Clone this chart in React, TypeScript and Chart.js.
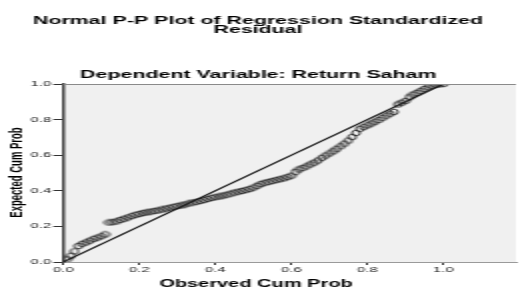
import React, { useEffect, useRef } from 'react';
import { Chart, registerables } from 'chart.js';

Chart.register(...registerables);

// ---- data ----
const observedCumProb = [
  0.01, 0.02, 0.03, 0.04, 0.05, 0.06, 0.07, 0.08, 0.09, 0.10,
  0.11, 0.12, 0.13, 0.14, 0.15, 0.16, 0.17, 0.18, 0.19, 0.20,
  0.21, 0.22, 0.23, 0.24, 0.25, 0.26, 0.27, 0.28, 0.29, 0.30,
  0.31, 0.32, 0.33, 0.34, 0.35, 0.36, 0.37, 0.38, 0.39, 0.40,
  0.41, 0.42, 0.43, 0.44, 0.45, 0.46, 0.47, 0.48, 0.49, 0.50,
  0.51, 0.52, 0.53, 0.54, 0.55, 0.56, 0.57, 0.58, 0.59, 0.60,
  0.61, 0.62, 0.63, 0.64, 0.65, 0.66, 0.67, 0.68, 0.69, 0.70,
  0.71, 0.72, 0.73, 0.74, 0.75, 0.76, 0.77, 0.78, 0.79, 0.80,
  0.81, 0.82, 0.83, 0.84, 0.85, 0.86, 0.87, 0.88, 0.89, 0.90,
  0.91, 0.92, 0.93, 0.94, 0.95, 0.96, 0.97, 0.98, 0.99, 1.00,
];
const expectedCumProb = [
  0.015, 0.035, 0.06, 0.09, 0.102, 0.11, 0.12, 0.13, 0.137, 0.145,
  0.155, 0.222, 0.224, 0.228, 0.236, 0.243, 0.25, 0.258, 0.265, 0.27,
  0.275, 0.279, 0.283, 0.287, 0.29, 0.295, 0.3, 0.305, 0.31, 0.314,
  0.318, 0.323, 0.329, 0.334, 0.338, 0.343, 0.348, 0.354, 0.36, 0.364,
  0.368, 0.373, 0.378, 0.384, 0.39, 0.395, 0.399, 0.404, 0.41, 0.418,
  0.428, 0.438, 0.445, 0.45, 0.455, 0.46, 0.465, 0.47, 0.477, 0.485,
  0.505, 0.52, 0.528, 0.537, 0.548, 0.558, 0.57, 0.585, 0.598, 0.61,
  0.622, 0.636, 0.65, 0.665, 0.682, 0.702, 0.725, 0.748, 0.758, 0.768,
  0.778, 0.788, 0.798, 0.81, 0.822, 0.833, 0.843, 0.885, 0.895, 0.905,
  0.925, 0.94, 0.95, 0.96, 0.972, 0.982, 0.99, 0.995, 0.998, 1.0,
];
const referenceLine = [0, 1];
const titleLines = ['Normal P-P Plot of Regression Standardized', 'Residual'];
const subtitleText = 'Dependent Variable: Return Saham';
const xAxisTitle = 'Observed Cum Prob';
const yAxisTitle = 'Expected Cum Prob';

// ---- layout (the reference image is stretched horizontally) ----
const SX = 2;
const W = 263;
const H = 288;
const FONT = '"Liberation Sans", Arial, sans-serif';

export default function App() {
  const ref = useRef<HTMLCanvasElement>(null);

  useEffect(() => {
    const canvas = ref.current!;
    const marker = document.createElement('canvas');
    marker.width = 6;
    marker.height = 8;
    const m = marker.getContext('2d')!;
    m.strokeStyle = '#1e1e1e';
    m.lineWidth = 0.85;
    m.beginPath();
    m.ellipse(3, 4, 2.0, 2.9, 0, 0, Math.PI * 2);
    m.stroke();

    const decor = {
      id: 'decor',
      beforeDraw(chart: any) {
        const { ctx, chartArea: a } = chart;
        ctx.save();
        ctx.fillStyle = '#f0f0f0';
        ctx.fillRect(a.left, a.top, a.right - a.left, a.bottom - a.top);
        ctx.restore();
      },
      afterDraw(chart: any) {
        const { ctx, chartArea: a } = chart;
        ctx.save();
        ctx.strokeStyle = '#8a8a8a';
        ctx.lineWidth = 1;
        ctx.beginPath();
        ctx.moveTo(a.left, a.top + 0.5);
        ctx.lineTo(a.right, a.top + 0.5);
        ctx.stroke();

        ctx.fillStyle = '#000';
        ctx.textAlign = 'center';
        ctx.textBaseline = 'middle';
        ctx.font = `bold 10.7px ${FONT}`;
        ctx.fillText(titleLines[0], 129, 21);
        ctx.fillText(titleLines[1], 129, 30.5);
        ctx.fillText(subtitleText, 129.2, 75);
        ctx.font = `bold 10px ${FONT}`;
        ctx.fillText(xAxisTitle, 128, 284);
        ctx.translate(8.5, 172.5);
        ctx.rotate(-Math.PI / 2);
        ctx.font = `bold 9.5px ${FONT}`;
        ctx.fillText(yAxisTitle, 0, 0);
        ctx.restore();
      },
    };

    const tickFont = { family: FONT, size: 7.5 };
    const chart = new Chart(canvas, {
      type: 'scatter',
      data: {
        datasets: [
          {
            data: referenceLine.map((v) => ({ x: v, y: v })),
            showLine: true,
            borderColor: '#1a1a1a',
            borderWidth: 1.1,
            pointRadius: 0,
            fill: false,
          },
          {
            data: observedCumProb.map((x, i) => ({ x, y: expectedCumProb[i] })),
            pointStyle: marker as any,
            pointRadius: 3,
            borderColor: '#1e1e1e',
            backgroundColor: 'transparent',
          },
        ],
      },
      options: {
        responsive: false,
        animation: false,
        devicePixelRatio: 1,
        layout: { padding: { top: 84, left: 0, right: 0, bottom: 0 } },
        plugins: { legend: { display: false }, tooltip: { enabled: false } },
        scales: {
          x: {
            type: 'linear',
            min: 0,
            max: 1.191,
            afterFit: (s: any) => {
              s.height = 26;
            },
            ticks: {
              stepSize: 0.2,
              includeBounds: false,
              autoSkip: false,
              maxRotation: 0,
              padding: 0,
              color: '#222',
              font: tickFont,
              callback: (v: any) => Number(v).toFixed(1),
            },
            grid: { drawOnChartArea: false, tickLength: 3, color: '#333' },
            border: { color: '#9a9a9a', width: 1 },
          },
          y: {
            type: 'linear',
            min: 0,
            max: 1,
            afterFit: (s: any) => {
              s.width = 31.65;
            },
            ticks: {
              stepSize: 0.2,
              padding: 1,
              color: '#222',
              font: tickFont,
              callback: (v: any) => Number(v).toFixed(1),
            },
            grid: { drawOnChartArea: false, tickLength: 5, color: '#333' },
            border: { color: '#444', width: 1.5 },
          },
        },
      },
      plugins: [decor],
    });
    return () => chart.destroy();
  }, []);

  return (
    <div
      style={{
        position: 'fixed',
        left: 0,
        top: 0,
        width: W * SX,
        height: H,
        overflow: 'hidden',
        background: '#fff',
      }}
    >
      <canvas
        ref={ref}
        width={W}
        height={H}
        style={{ transform: `scaleX(${SX})`, transformOrigin: '0 0', display: 'block' }}
      />
    </div>
  );
}
